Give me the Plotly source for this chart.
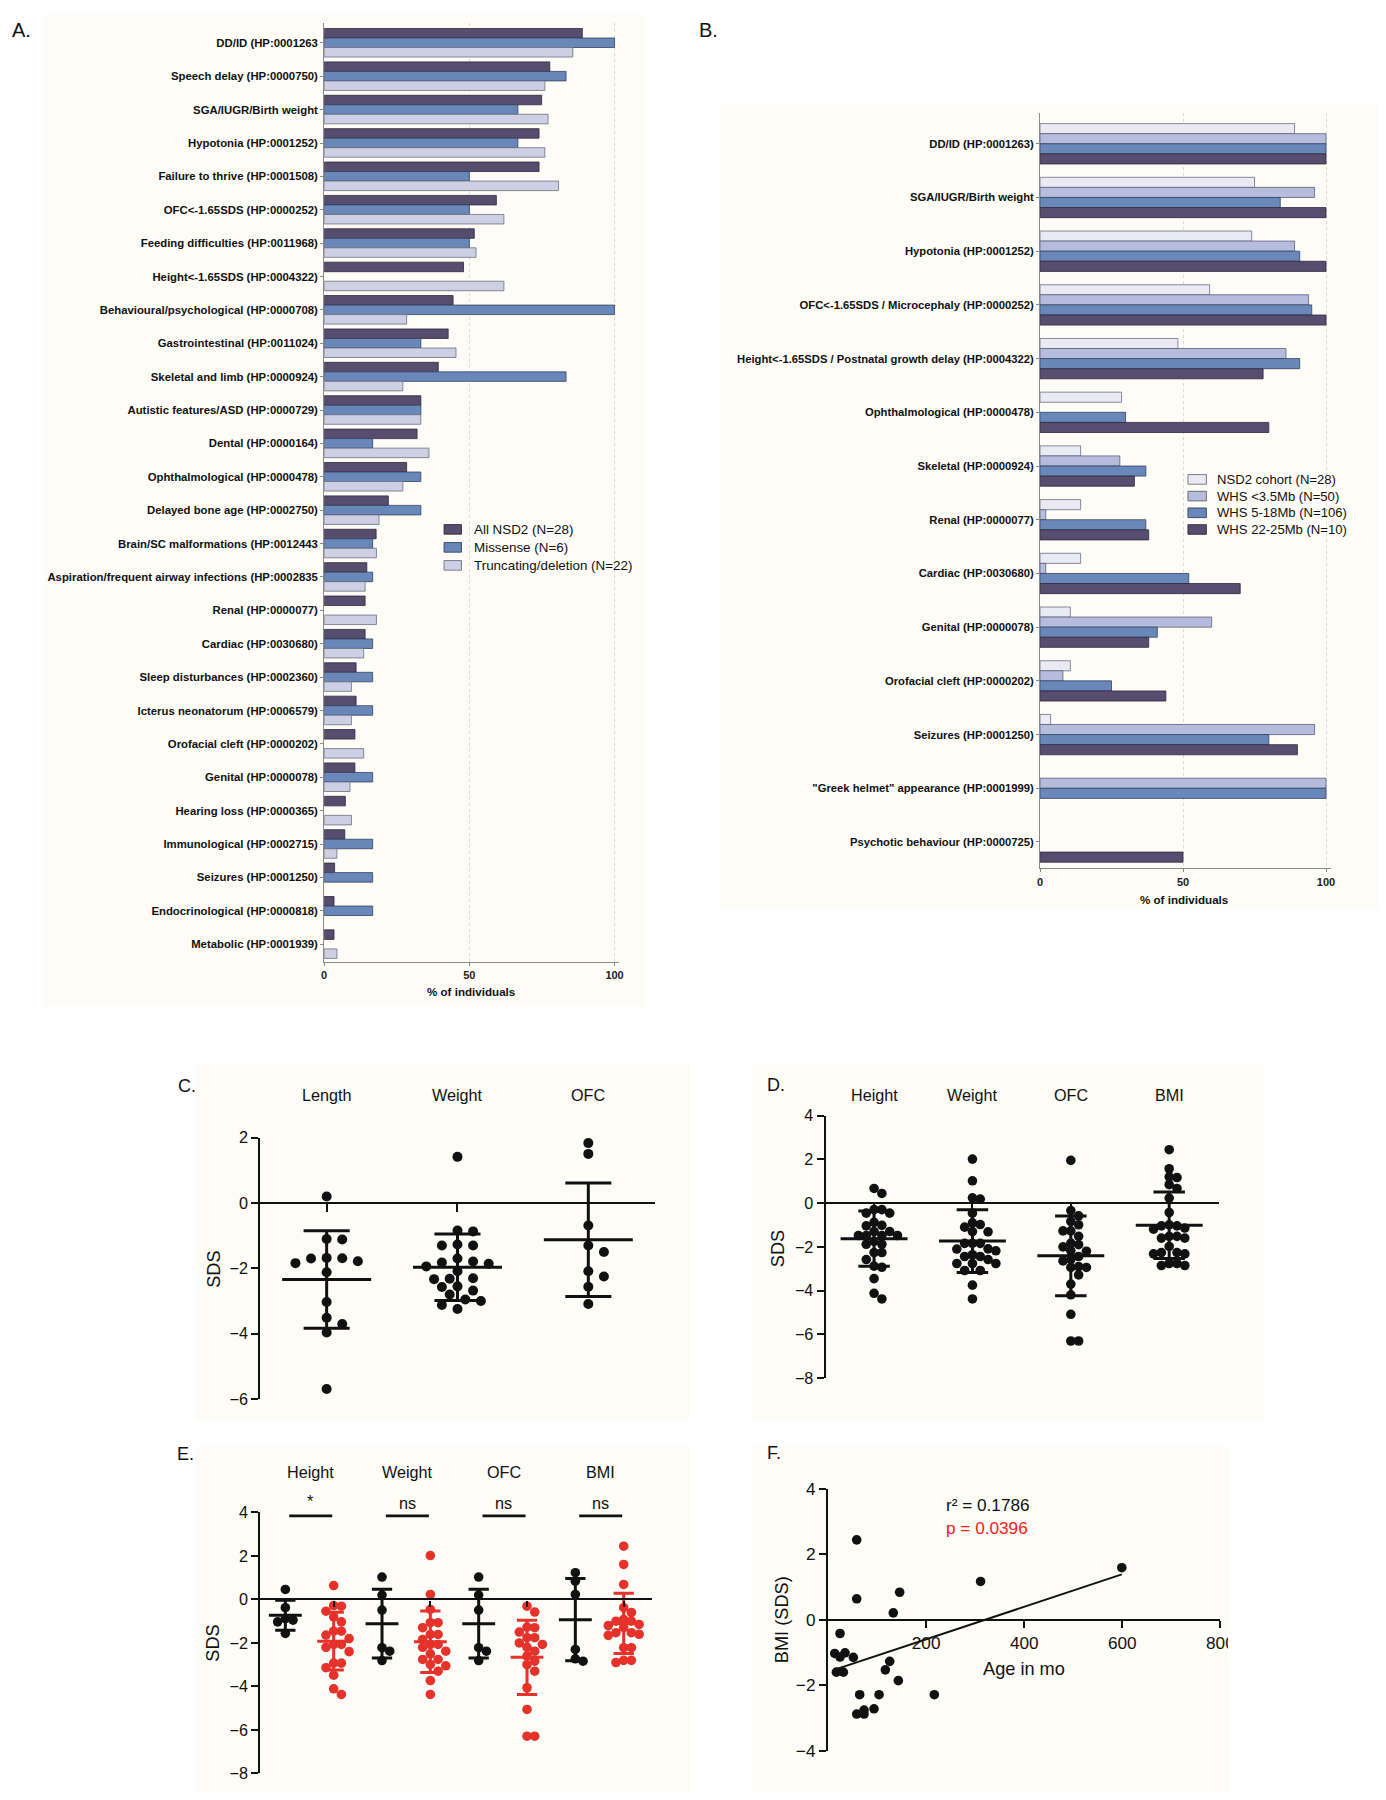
import numpy as np
import plotly.graph_objects as go

# Figure placed in a 1386x1800 page (body keeps an 8px margin).
OFF = 8
W, H = 1370, 1784
# measured screen mapping of the rendered page (scale + shift), compensated here
AX, BX = 0.9868, 3.0
AY, BY = 0.989, 8.3
def PX(x): return ((x - BX) / AX - OFF) / W
def PY(y): return 1 - ((y - BY) / AY - OFF) / H

ARIAL = "Liberation Sans, Arial, sans-serif"

# ---------------- Panel A data ----------------
a_categories = ["DD/ID (HP:0001263", "Speech delay (HP:0000750)", "SGA/IUGR/Birth weight",
                "Hypotonia (HP:0001252)", "Failure to thrive (HP:0001508)", "OFC<-1.65SDS (HP:0000252)",
                "Feeding difficulties (HP:0011968)", "Height<-1.65SDS (HP:0004322)",
                "Behavioural/psychological (HP:0000708)", "Gastrointestinal (HP:0011024)",
                "Skeletal and limb (HP:0000924)", "Autistic features/ASD (HP:0000729)", "Dental (HP:0000164)",
                "Ophthalmological (HP:0000478)", "Delayed bone age (HP:0002750)",
                "Brain/SC malformations (HP:0012443", "Aspiration/frequent airway infections (HP:0002835",
                "Renal (HP:0000077)", "Cardiac (HP:0030680)", "Sleep disturbances (HP:0002360)",
                "Icterus neonatorum (HP:0006579)", "Orofacial cleft (HP:0000202)", "Genital (HP:0000078)",
                "Hearing loss (HP:0000365)", "Immunological (HP:0002715)", "Seizures (HP:0001250)",
                "Endocrinological (HP:0000818)", "Metabolic (HP:0001939)"]
a_series = ["All NSD2 (N=28)", "Missense (N=6)", "Truncating/deletion (N=22)"]
a_all = [88.9, 77.7, 74.9, 74.0, 74.0, 59.3, 51.7, 48.0, 44.4, 42.7, 39.3, 33.3, 32.0, 28.4,
         22.1, 17.9, 14.7, 14.1, 14.1, 11.0, 11.0, 10.6, 10.6, 7.3, 7.1, 3.6, 3.4, 3.4]
a_missense = [100, 83.3, 66.7, 66.7, 50, 50, 50, None, 100, 33.3, 83.3, 33.3, 16.7, 33.3,
              33.3, 16.7, 16.7, None, 16.7, 16.7, 16.7, None, 16.7, None, 16.7, 16.7, 16.7, None]
a_trunc = [85.6, 76.0, 77.1, 76.0, 80.7, 61.9, 52.3, 61.9, 28.4, 45.4, 27.1, 33.3, 36.1, 27.1,
           18.9, 18.0, 14.1, 18.0, 13.6, 9.4, 9.4, 13.6, 8.9, 9.4, 4.4, None, None, 4.4]

# ---------------- Panel B data ----------------
b_categories = ["DD/ID (HP:0001263)", "SGA/IUGR/Birth weight", "Hypotonia (HP:0001252)",
                "OFC<-1.65SDS / Microcephaly (HP:0000252)",
                "Height<-1.65SDS / Postnatal growth delay (HP:0004322)", "Ophthalmological (HP:0000478)",
                "Skeletal (HP:0000924)", "Renal (HP:0000077)", "Cardiac (HP:0030680)", "Genital (HP:0000078)",
                "Orofacial cleft (HP:0000202)", "Seizures (HP:0001250)",
                "\"Greek helmet\" appearance (HP:0001999)", "Psychotic behaviour (HP:0000725)"]
b_series = ["NSD2 cohort (N=28)", "WHS <3.5Mb (N=50)", "WHS 5-18Mb (N=106)", "WHS 22-25Mb (N=10)"]
b_nsd2 = [89, 75, 74, 59.3, 48.2, 28.5, 14.2, 14.2, 14.2, 10.6, 10.6, 3.7, None, None]
b_whs_small = [100, 96, 89, 93.9, 86, None, 27.9, 2, 2, 60, 8, 96, 100, None]
b_whs_mid = [100, 84, 90.8, 95, 90.8, 29.9, 37, 37, 52, 41, 25, 80, 100, None]
b_whs_large = [100, 100, 100, 100, 78, 80, 33, 38, 70, 38, 44, 90, None, 50]

# ---------------- Panel C data (birth SDS) ----------------
c_labels = ["Length", "Weight", "OFC"]
c_length = [0.2, -1.12, -1.1, -1.7, -1.84, -1.68, -1.69, -1.78, -2.12, -3.03, -3.51, -3.7, -3.96, -5.69]
c_weight = [1.41, -0.87, -0.84, -1.3, -1.3, -1.27, -1.7, -1.79, -1.86, -1.82, -1.94, -2.09, -2.3, -2.33,
            -2.32, -2.57, -2.55, -2.68, -2.8, -3.0, -2.95, -3.12, -3.24]
c_ofc = [1.83, 1.5, -0.69, -1.3, -1.5, -2.25, -2.09, -2.56, -3.09]

# ---------------- Panel D data (current SDS) ----------------
d_labels = ["Height", "Weight", "OFC", "BMI"]
d_height = [0.67, 0.44, -0.3, -0.3, -0.46, -0.46, -0.88, -1.04, -1.02, -1.3, -1.3, -1.48, -1.48, -1.48,
            -1.48, -1.88, -1.88, -1.75, -2.26, -2.26, -2.58, -2.93, -2.88, -3.45, -4.12, -4.38]
d_weight = [2.01, 1.02, 0.24, 0.18, -0.46, -0.98, -0.9, -1.1, -1.31, -1.3, -1.84, -1.84, -1.84, -2.1,
            -2.18, -2.09, -2.36, -2.58, -2.44, -2.44, -2.76, -2.76, -2.76, -3.08, -3.08, -3.75, -4.38]
d_ofc = [1.95, -0.34, -0.58, -0.84, -0.99, -1.27, -1.27, -1.52, -1.83, -1.9, -2.0, -2.18, -2.2, -2.44,
         -2.64, -2.58, -2.94, -2.94, -2.9, -3.28, -3.7, -4.19, -5.08, -6.3, -6.3]
d_bmi = [2.44, 1.57, 1.17, 1.2, 0.84, 0.67, 0.23, -0.43, -0.99, -1.04, -1.04, -1.19, -1.14, -1.52, -1.52,
         -1.6, -1.6, -1.98, -2.26, -2.26, -2.32, -2.32, -2.76, -2.76, -2.85, -2.85]

# ---------------- Panel E data (missense vs truncating) ----------------
e_labels = ["Height", "Weight", "OFC", "BMI"]
e_sig = ["*", "ns", "ns", "ns"]
e_height_m = [0.46, -0.38, -0.88, -0.95, -1.03, -1.56]
e_height_t = [0.64, -0.28, -0.31, -0.54, -0.8, -1.03, -1.46, -1.46, -1.64, -1.8, -2.07, -2.07, -2.2, -2.4,
              -2.93, -2.93, -3.14, -3.48, -4.11, -4.37]
e_weight_m = [1.03, 0.2, -0.49, -2.22, -2.38, -2.81]
e_weight_t = [2.02, 0.23, -0.46, -1.07, -1.07, -1.3, -1.61, -1.61, -1.84, -2.07, -2.07, -2.2, -2.38, -2.5,
              -2.76, -2.76, -2.99, -3.05, -3.3, -3.73, -4.37]
e_ofc_m = [1.03, 0.2, -0.49, -2.22, -2.38, -2.81]
e_ofc_t = [-0.31, -0.58, -1.27, -1.3, -1.5, -1.76, -1.76, -2.0, -2.07, -2.2, -2.38, -2.6, -2.84, -3.0, -3.3,
           -4.06, -5.06, -6.29, -6.29]
e_bmi_m = [1.23, 0.84, 0.23, -2.3, -2.73, -2.84]
e_bmi_t = [2.45, 1.61, 0.69, -0.38, -0.6, -0.92, -1.0, -1.0, -1.15, -1.2, -1.3, -1.53, -1.53, -1.6, -1.65,
           -2.22, -2.22, -2.8, -2.8, -2.9]

# ---------------- Panel F data ----------------
f_age = [58.4, 58.4, 133, 146, 311, 599, 24.4, 13.6, 24.4, 34.6, 51.6, 17, 31.2, 125.7, 116.8, 143.3,
         64.5, 104, 216.7, 93.7, 73.4, 58.4, 73.4]
f_bmi = [2.44, 0.64, 0.21, 0.84, 1.17, 1.59, -0.42, -1.03, -1.14, -1.01, -1.15, -1.6, -1.6, -1.27, -1.53,
         -1.86, -2.29, -2.29, -2.29, -2.72, -2.76, -2.88, -2.88]
f_stats = ["r\u00b2 = 0.1786", "p = 0.0396"]

# ================= figure =================
fig = go.Figure()

a_colors = ["#564d6f", "#6a87ba", "#cdd0e4"]
a_lines = ["#2c2a3c", "#34425e", "#6d6f80"]
a_offsets = [-0.43, -0.145, 0.14]
for name, vals, col, lc, off in zip(a_series, [a_all, a_missense, a_trunc], a_colors, a_lines, a_offsets):
    fig.add_trace(go.Bar(x=vals, y=a_categories, orientation="h", name=name, width=0.285, offset=off,
                         marker=dict(color=col, line=dict(color=lc, width=0.8)), xaxis="x", yaxis="y",
                         showlegend=False, hoverinfo="skip"))

b_colors = ["#e9eaf4", "#b6bddc", "#6a87ba", "#564d6f"]
b_lines = ["#6d6f80", "#5a5e78", "#34425e", "#2c2a3c"]
b_offsets = [-0.375, -0.188, 0.0, 0.188]
for name, vals, col, lc, off in zip(b_series, [b_nsd2, b_whs_small, b_whs_mid, b_whs_large], b_colors, b_lines,
                                    b_offsets):
    fig.add_trace(go.Bar(x=vals, y=b_categories, orientation="h", name=name, width=0.188, offset=off,
                         marker=dict(color=col, line=dict(color=lc, width=0.8)), xaxis="x2", yaxis="y2",
                         showlegend=False, hoverinfo="skip"))


def swarm(vals, ppx, ppy, diam, step):
    """simple beeswarm: offsets (in axis units) so dots do not collide (in pixels)"""
    vals = np.asarray(vals, float)
    order = np.argsort(-vals, kind="stable")
    placed = []
    offs = np.zeros(len(vals))
    cands = [0]
    for j in range(1, 40):
        cands += [j, -j]
    for i in order:
        yy = vals[i] * ppy
        xx = 0.0
        for c in cands:
            xx = c * step
            if all((xx - px) ** 2 + (yy - py) ** 2 >= diam ** 2 for px, py in placed):
                break
        offs[i] = xx / ppx
        placed.append((xx, yy))
    return offs


def dot_group(xc, vals, color, xa, ya, ppx, ppy, diam, step, mean_hw, cap_hw, msize):
    vals = np.asarray(vals, float)
    offs = swarm(vals, ppx, ppy, diam, step)
    fig.add_trace(go.Scatter(x=xc + offs, y=vals, mode="markers",
                             marker=dict(size=msize, color=color, line=dict(width=0)),
                             xaxis=xa, yaxis=ya, cliponaxis=False, showlegend=False, hoverinfo="skip"))
    m = vals.mean()
    s = vals.std(ddof=1)
    lx = [xc - mean_hw, xc + mean_hw, None, xc, xc, None, xc - cap_hw, xc + cap_hw, None, xc - cap_hw, xc + cap_hw]
    ly = [m, m, None, m - s, m + s, None, m + s, m + s, None, m - s, m - s]
    fig.add_trace(go.Scatter(x=lx, y=ly, mode="lines", line=dict(color=color, width=3),
                             xaxis=xa, yaxis=ya, cliponaxis=False, showlegend=False, hoverinfo="skip"))


BLACK = "#111111"
RED = "#e5322b"

for i, vals in enumerate([c_length, c_weight, c_ofc]):
    dot_group(i, vals, BLACK, "x3", "y3", 130.85, 32.7, 10.5, 7.8, 0.34, 0.176, 10)
for i, vals in enumerate([d_height, d_weight, d_ofc, d_bmi]):
    dot_group(i, vals, BLACK, "x4", "y4", 98.3, 21.9, 7.6, 7.8, 0.34, 0.16, 9.6)
e_pairs = [(e_height_m, e_height_t), (e_weight_m, e_weight_t), (e_ofc_m, e_ofc_t), (e_bmi_m, e_bmi_t)]
for i, (mv, tv) in enumerate(e_pairs):
    dot_group(2 * i, mv, BLACK, "x5", "y5", 48.3, 21.7, 7.6, 7.7, 0.34, 0.21, 9.6)
    dot_group(2 * i + 1, tv, RED, "x5", "y5", 48.3, 21.7, 7.6, 7.7, 0.34, 0.21, 9.6)

fa = np.asarray(f_age, float)
fb = np.asarray(f_bmi, float)
fig.add_trace(go.Scatter(x=fa, y=fb, mode="markers", marker=dict(size=9.6, color=BLACK),
                         xaxis="x6", yaxis="y6", cliponaxis=False, showlegend=False, hoverinfo="skip"))
slope, icpt = np.polyfit(fa, fb, 1)
lx = np.array([fa.min(), fa.max()])
fig.add_trace(go.Scatter(x=lx, y=slope * lx + icpt, mode="lines", line=dict(color=BLACK, width=2),
                         xaxis="x6", yaxis="y6", cliponaxis=False, showlegend=False, hoverinfo="skip"))

# ================= axes =================
def zero_pos(d0, d1, lo, hi):
    return d0 + (0 - lo) / (hi - lo) * (d1 - d0)

bar_x_common = dict(showline=True, linecolor="#8a8a8a", linewidth=1, ticks="outside", ticklen=3,
                    tickcolor="#8a8a8a", tickvals=[0, 50, 100], showgrid=True, gridcolor="#d9d9d9",
                    griddash="dot", gridwidth=1, zeroline=False,
                    tickfont=dict(family=ARIAL, size=11, color="#222", weight="bold"))
bar_y_common = dict(type="category", showline=True, linecolor="#8a8a8a", linewidth=1, ticks="outside",
                    ticklen=3, tickcolor="#8a8a8a", showgrid=False, zeroline=False, categoryorder="array")

sds_common = dict(showline=True, linecolor=BLACK, linewidth=2.3, ticks="outside", ticklen=7, tickwidth=2.3,
                  tickcolor=BLACK, showgrid=False, zeroline=False,
                  tickfont=dict(family=ARIAL, size=16.2, color=BLACK))

yC = [PY(1397.7), PY(1136)]
yD = [PY(1376.7), PY(1114)]
yE = [PY(1772), PY(1511)]
yF = [PY(1749.3), PY(1487.3)]

fig.update_layout(
    xaxis=dict(domain=[PX(323.8), PX(618.9)], range=[0, 101.7], anchor="y", **bar_x_common),
    yaxis=dict(domain=[PY(960), PY(21.7)], range=[27.52, -0.58], anchor="x",
               categoryarray=a_categories, tickfont=dict(family=ARIAL, size=11.35, color="#111", weight="bold"),
               **bar_y_common),
    xaxis2=dict(domain=[PX(1039.1), PX(1330)], range=[0, 101.8], anchor="y2", **bar_x_common),
    yaxis2=dict(domain=[PY(866.7), PY(111.7)], range=[13.49, -0.564], anchor="x2",
                categoryarray=b_categories, tickfont=dict(family=ARIAL, size=11.25, color="#111", weight="bold"),
                **bar_y_common),
    xaxis3=dict(domain=[PX(260), PX(654.3)], range=[-0.507, 2.509], anchor="free",
                position=zero_pos(yC[0], yC[1], -6, 2), tickvals=[0, 1, 2], showticklabels=False,
                **dict(sds_common, ticklen=8)),
    yaxis3=dict(domain=yC, range=[-6, 2], anchor="x3", tickvals=[-6, -4, -2, 0, 2], **sds_common),
    xaxis4=dict(domain=[PX(825), PX(1217.7)], range=[-0.491, 3.504], anchor="free",
                position=zero_pos(yD[0], yD[1], -8, 4), tickvals=[0, 1, 2, 3], showticklabels=False,
                **dict(sds_common, ticklen=7)),
    yaxis4=dict(domain=yD, range=[-8, 4], anchor="x4", tickvals=[-8, -6, -4, -2, 0, 2, 4], **sds_common),
    xaxis5=dict(domain=[PX(260), PX(651)], range=[-0.518, 7.578], anchor="free",
                position=zero_pos(yE[0], yE[1], -8, 4), tickvals=list(range(8)), showticklabels=False,
                **dict(sds_common, ticklen=6)),
    yaxis5=dict(domain=yE, range=[-8, 4], anchor="x5", tickvals=[-8, -6, -4, -2, 0, 2, 4], **sds_common),
    xaxis6=dict(domain=[PX(827.3), PX(1219.3)], range=[0, 800], anchor="free",
                position=zero_pos(yF[0], yF[1], -4, 4), tickvals=[200, 400, 600, 800],
                **dict(sds_common, tickfont=dict(family=ARIAL, size=17.2, color=BLACK))),
    yaxis6=dict(domain=yF, range=[-4, 4], anchor="x6", tickvals=[-4, -2, 0, 2, 4],
                **dict(sds_common, tickfont=dict(family=ARIAL, size=17.2, color=BLACK))),
)

# ================= shapes & annotations =================
shapes = []
anns = []
BG = "#fdfcf7"
for (x0, y0, x1, y1) in [(43.5, 13, 643, 1005), (719.7, 103, 1380, 908), (195, 1062, 690, 1418),
                         (752, 1062, 1263, 1418), (195, 1445, 690, 1800), (752, 1445, 1229, 1800)]:
    shapes.append(dict(type="rect", xref="paper", yref="paper", x0=PX(x0), x1=PX(x1), y0=PY(y1), y1=PY(y0),
                       fillcolor=BG, line=dict(width=0), layer="below"))


def legend(series, colors, lines, x_sw, w_sw, y_first, dy, text_x, size):
    for k, (nm, col, lc) in enumerate(zip(series, colors, lines)):
        yc = y_first + k * dy
        shapes.append(dict(type="rect", xref="paper", yref="paper", x0=PX(x_sw), x1=PX(x_sw + w_sw),
                           y0=PY(yc + 4.8), y1=PY(yc - 4.8), fillcolor=col, line=dict(color=lc, width=0.9)))
        anns.append(dict(text=nm, x=PX(text_x), y=PY(yc), xref="paper", yref="paper", xanchor="left",
                         yanchor="middle", showarrow=False, font=dict(family=ARIAL, size=size, color="#111")))


legend(a_series, a_colors, a_lines, 443.6, 17.4, 527.7, 18.0, 471.3, 13.4)
legend(b_series, b_colors, b_lines, 1186.9, 18.4, 477.7, 16.7, 1214, 13.1)

# E significance bars and labels
for i, s in enumerate(e_sig):
    shapes.append(dict(type="line", xref="x5", yref="y5", x0=2 * i + 0.08, x1=2 * i + 0.97, y0=3.84, y1=3.84,
                       line=dict(color=BLACK, width=2.7)))
    anns.append(dict(text=s, x=2 * i + 0.52, y=PY(1500 if s == "*" else 1502), xref="x5", yref="paper",
                     xanchor="center", yanchor="middle", showarrow=False,
                     font=dict(family=ARIAL, size=16.2, color=BLACK)))

# clip "800" as in the reference
shapes.append(dict(type="rect", xref="paper", yref="paper", x0=PX(1227), x1=PX(1262), y0=PY(1660), y1=PY(1625),
                   fillcolor="white", line=dict(width=0), layer="above"))


def A(text, x, y, size, color=BLACK, xanchor="center", angle=0, weight="normal", yanchor="middle", pad=1):
    anns.append(dict(text=text, x=x, y=y, xref="paper", yref="paper", xanchor=xanchor,
                     yanchor=yanchor, showarrow=False, textangle=angle, borderpad=pad,
                     font=dict(family=ARIAL, size=size, color=color, weight=weight)))


A("A.", 0, 1, 20, xanchor="left", yanchor="top", pad=0)
A("B.", PX(697), 1, 20, xanchor="left", yanchor="top", pad=0)
A("C.", PX(176), PY(1084), 18, xanchor="left")
A("D.", PX(764), PY(1083), 18, xanchor="left")
A("E.", PX(175), PY(1453), 18, xanchor="left")
A("F.", PX(764), PY(1452), 18, xanchor="left")

A("% of individuals", PX(470.5), PY(990), 11.6, weight="bold")
A("% of individuals", PX(1183.4), PY(898), 11.6, weight="bold")

A("SDS", PX(213), PY(1268), 18.2, angle=-90)
A("SDS", PX(777), PY(1247), 18.2, angle=-90)
A("SDS", PX(213), PY(1642), 18.2, angle=-90)
A("BMI (SDS)", PX(782), PY(1618), 18.2, angle=-90)
A("Age in mo", PX(1023), PY(1668), 18.2)
A(f_stats[0], PX(943), PY(1504), 17.2, xanchor="left")
A(f_stats[1], PX(943), PY(1527), 17.2, color="#ff1a1a", xanchor="left")

for xa, labels, xs, yy in [("x3", c_labels, [0, 1, 2], 1093), ("x4", d_labels, [0, 1, 2, 3], 1093),
                           ("x5", e_labels, [0.52, 2.52, 4.52, 6.52], 1471)]:
    for xv, t in zip(xs, labels):
        anns.append(dict(text=t, x=xv, y=PY(yy), xref=xa, yref="paper", xanchor="center", yanchor="middle",
                         showarrow=False, font=dict(family=ARIAL, size=16.2, color=BLACK)))

fig.update_layout(shapes=shapes, annotations=anns, width=W, height=H,
                  margin=dict(l=0, r=0, t=0, b=0), paper_bgcolor="white", plot_bgcolor="rgba(0,0,0,0)",
                  barmode="overlay", showlegend=False, font=dict(family=ARIAL, color=BLACK))

fig.write_html("out.html", include_plotlyjs=True, config={"displayModeBar": False})
